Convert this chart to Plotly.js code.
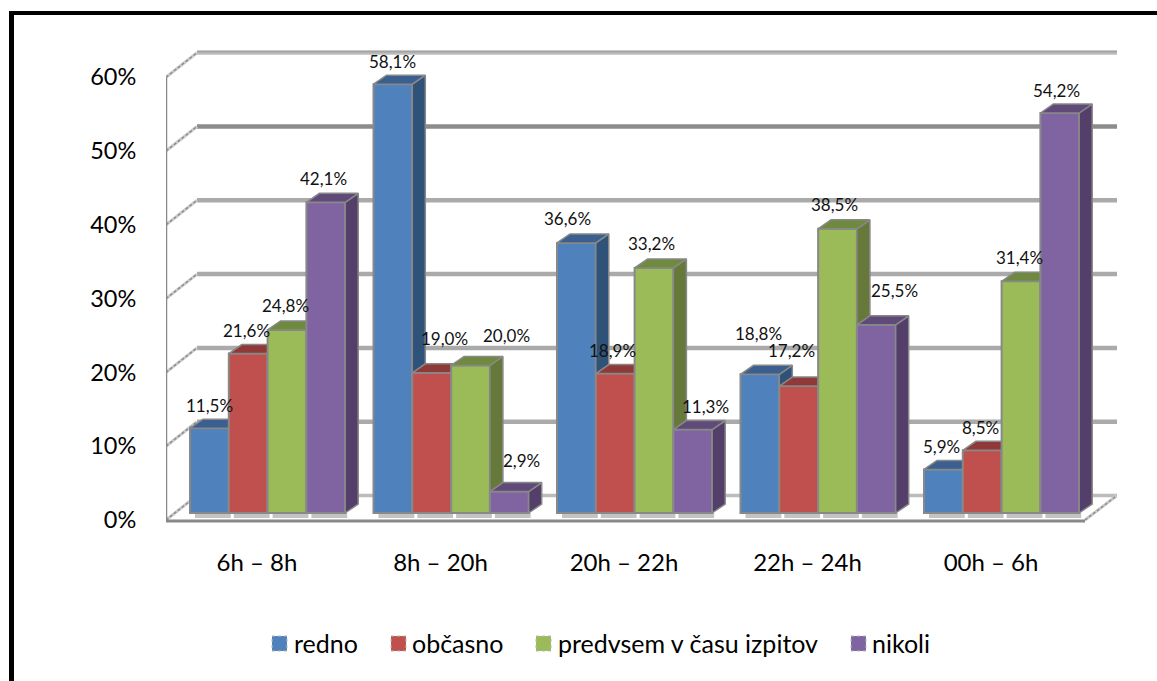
<!DOCTYPE html>
<html><head><meta charset="utf-8">
<script src="https://cdn.plot.ly/plotly-3.0.1.min.js"></script>
<style>html,body{margin:0;padding:0;background:#fff}#c{width:1157px;height:681px}</style>
</head><body><div id="c"></div>
<script>
// ---- data ----
const categories = ['6h – 8h','8h – 20h','20h – 22h','22h – 24h','00h – 6h'];
const seriesNames = ['redno','občasno','predvsem v času izpitov','nikoli'];
const redno    = [11.5,58.1,36.6,18.8,5.9];
const obcasno  = [21.6,19.0,18.9,17.2,8.5];
const predvsem = [24.8,20.0,33.2,38.5,31.4];
const nikoli   = [42.1,2.9,11.3,25.5,54.2];
const yTicks   = [0,10,20,30,40,50,60];

// ---- styling / layout constants ----
const front = ['#4f81bd','#c0504d','#9bbb59','#8064a2'];
const topC  = ['#3b5f8e','#8f3a38','#6f8a3e','#5f4a7a'];
const sideC = ['#2f5278','#7c3230','#66793a','#543f6b'];
const edge  = '#888888';
const nudgeX = [[0,0,-9,-1,-2],[-2,13,-3,-7,-2],[-2,36,-3,-3,-2],[-2,12,13,18,-3]];
const nudgeY = [[23,23,24,41,23],[23,34,23,36,23],[24,30,24,24,24],[24,31,23,34,23]];

const W=1157,H=681,L=166,R=1117,T=40,B=530;
const pxPerUnit=183.5, pxPerPct=7.38, x0px=257, y0px=520;
const xr=[(L-x0px)/pxPerUnit,(R-x0px)/pxPerUnit];
const yr=[(y0px-B)/pxPerPct,(y0px-T)/pxPerPct];
const depthX=31/pxPerUnit, depthY=24.5/pxPerPct;   // wall depth
const barDX=13/pxPerUnit, barDY=9/pxPerPct;        // bar depth
const base=7/pxPerPct, barW=38.8/pxPerUnit, gStart=(190-x0px)/pxPerUnit;
const px=x=>(x-L)/(R-L), py=y=>(B-y)/(B-T);

const values=[redno,obcasno,predvsem,nikoli];
const traces=[], shapes=[], annotations=[];
const xName=i=>i===0?'x':'x'+(i+1), yName=i=>i===0?'y':'y'+(i+1);

values.forEach((vals,s)=>{
  const centers=categories.map((_,g)=>g+gStart+barW*(s+0.5));
  traces.push({type:'bar',name:seriesNames[s],x:centers,y:vals,base:vals.map(()=>base),width:barW,
    xaxis:xName(s),yaxis:yName(s),showlegend:false,hoverinfo:'name+y',
    marker:{color:front[s],line:{color:edge,width:2}}});
  vals.forEach((v,g)=>{
    const xl=centers[g]-barW/2,xh=centers[g]+barW/2,yt=base+v;
    traces.push({type:'scatter',mode:'lines',fill:'toself',fillcolor:sideC[s],showlegend:false,hoverinfo:'skip',
      xaxis:xName(s),yaxis:yName(s),line:{color:edge,width:1.5},
      x:[xh,xh+barDX,xh+barDX,xh,xh],y:[base,base+barDY,yt+barDY,yt,base]});
    traces.push({type:'scatter',mode:'lines',fill:'toself',fillcolor:topC[s],showlegend:false,hoverinfo:'skip',
      xaxis:xName(s),yaxis:yName(s),line:{color:edge,width:1.5},
      x:[xl,xl+barDX,xh+barDX,xh,xl],y:[yt,yt+barDY,yt+barDY,yt,yt]});
    annotations.push({xref:'x',yref:'y',x:centers[g],y:yt,text:v.toFixed(1).replace('.',',')+'%',showarrow:false,
      xshift:nudgeX[s][g],yshift:nudgeY[s][g],xanchor:'center',yanchor:'middle',
      font:{family:'Lato',size:17,color:'#111'}});
    // floor shadow beneath each bar
    shapes.push({type:'rect',layer:'below',xref:'x',yref:'y',x0:xl+5/pxPerUnit,x1:xh+2/pxPerUnit,y0:base-5/pxPerPct,y1:base,
      fillcolor:'#c4c4c4',line:{width:0}});
  });
});

// walls: back gridlines and left diagonals, built from the tick values
const line=(x0,y0,x1,y1,c,w,d)=>({type:'line',layer:'below',xref:'x',yref:'y',x0,y0,x1,y1,line:{color:c,width:w,dash:d||'solid'}});
const xFront0=xr[0], xFront1=(1085-x0px)/pxPerUnit;
const diag=(x0,y0,x1,y1)=>[line(x0,y0,x1,y1,'#cccccc',3),line(x0,y0,x1,y1,'#8f8f8f',1.5,'3px,2px')];
yTicks.forEach(t=>{
  const c=t===50?'#8c8c8c':(t===60||t===0?'#bcbcbc':'#aaaaaa');
  shapes.push(line(xFront0+depthX,t+depthY,xr[1],t+depthY,c,t===60?4:(t===0?3.5:4.5)));
  if(t===60) shapes.push(line(xFront0+depthX,t+depthY+1.2/pxPerPct,xr[1],t+depthY+1.2/pxPerPct,'#a4a4a4',2));
  shapes.push(...diag(xFront0,t,xFront0+depthX,t+depthY));
});
shapes.push(...diag(xFront1,0,xr[1],depthY));
shapes.push(line(xFront0,-1/pxPerPct,xFront0,60,edge,2.5));
shapes.push(line(xFront0,-1/pxPerPct,xFront1,-1/pxPerPct,edge,3));

// page frame (top and left)
const frame=(x0,y0,x1,y1)=>({type:'rect',xref:'paper',yref:'paper',x0:px(x0),x1:px(x1),y0:py(y0),y1:py(y1),fillcolor:'#000',line:{width:0}});
shapes.push(frame(9,11,W,15),frame(9,11,14,H));

// legend
const legendSwatch=[272,391,536,851], legendText=[292,410,556,870];
seriesNames.forEach((n,s)=>{
  shapes.push({type:'rect',xref:'paper',yref:'paper',x0:px(legendSwatch[s]),x1:px(legendSwatch[s]+15),y0:py(636),y1:py(651),
    fillcolor:front[s],line:{color:'#bbbbbb',width:1,dash:'dot'}});
  annotations.push({xref:'paper',yref:'paper',x:px(legendText[s]),y:py(643),text:n,showarrow:false,xanchor:'left',yanchor:'middle',
    font:{family:'Lato',size:25,color:'#000'}});
});

const layout={width:W,height:H,margin:{l:L,r:W-R,t:T,b:H-B,pad:0},paper_bgcolor:'#fff',plot_bgcolor:'#fff',
  barmode:'overlay',showlegend:false,font:{family:'Lato',color:'#000'},shapes,annotations,
  xaxis:{range:xr,tickmode:'array',tickvals:categories.map((_,i)=>i),ticktext:categories,showgrid:false,zeroline:false,showline:false,
    ticks:'outside',ticklen:11,tickcolor:'rgba(0,0,0,0)',tickfont:{family:'Lato',size:24,color:'#000'}},
  yaxis:{range:yr,tickmode:'array',tickvals:yTicks,ticktext:yTicks.map(t=>t+'%'),showgrid:false,zeroline:false,showline:false,
    ticks:'outside',ticklen:24,tickcolor:'rgba(0,0,0,0)',tickfont:{family:'Lato',size:23.5,color:'#000'}}};
[1,2,3].forEach(i=>{
  layout['xaxis'+(i+1)]={overlaying:'x',range:xr,visible:false};
  layout['yaxis'+(i+1)]={overlaying:'y',range:yr,visible:false};
});
Plotly.newPlot('c',traces,layout,{displayModeBar:false,staticPlot:true});
</script></body></html>
